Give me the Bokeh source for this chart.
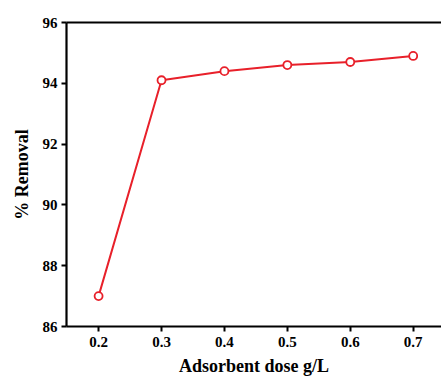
from bokeh.plotting import figure
from bokeh.models import LinearAxis, Range1d, FixedTicker
from bokeh.embed import file_html
from bokeh.resources import INLINE

dose = [0.2, 0.3, 0.4, 0.5, 0.6, 0.7]
removal = [87.0, 94.1, 94.4, 94.6, 94.7, 94.9]
x_ticks = [0.2, 0.3, 0.4, 0.5, 0.6, 0.7]
y_ticks = [86, 88, 90, 92, 94, 96]

FONT = "Liberation Serif"
RED = "#e8202a"

p = figure(width=441, height=383, output_backend="svg", toolbar_location=None,
           x_range=Range1d(0.149, 0.745), y_range=Range1d(86, 96),
           min_border_left=66, min_border_right=0, min_border_top=22, min_border_bottom=57)
p.outline_line_color = None
p.grid.grid_line_color = None
p.background_fill_color = "white"
p.border_fill_color = "white"

p.line(dose, removal, line_color=RED, line_width=2)
p.scatter(dose, removal, marker="circle", size=8, line_color=RED, line_width=1.8, fill_color="white")

for ax in (p.xaxis[0], p.yaxis[0]):
    ax.axis_line_width = 2.2
    ax.axis_line_color = "black"
    ax.major_tick_line_width = 2
    ax.major_tick_line_color = "black"
    ax.major_tick_out = 5
    ax.major_tick_in = 0
    ax.minor_tick_line_color = None
    ax.major_label_text_font = FONT
    ax.major_label_text_font_style = "bold"
    ax.major_label_text_font_size = "15px"
    ax.major_label_text_color = "black"
    ax.axis_label_text_font = FONT
    ax.axis_label_text_font_style = "bold"
    ax.axis_label_text_font_size = "18px"
    ax.axis_label_text_color = "black"

p.xaxis.ticker = FixedTicker(ticks=x_ticks)
p.yaxis.ticker = FixedTicker(ticks=y_ticks)
p.xaxis.axis_label = "Adsorbent dose g/L"
p.yaxis.axis_label = "% Removal"
p.xaxis.major_label_standoff = 5
p.yaxis.major_label_standoff = 4
p.xaxis.axis_label_standoff = 6
p.yaxis.axis_label_standoff = 8

top = LinearAxis(ticker=FixedTicker(ticks=[]), axis_line_width=2.2, axis_line_color="black",
                 major_tick_line_color=None, minor_tick_line_color=None,
                 major_label_text_font_size="0px", major_label_standoff=0)
p.add_layout(top, "above")

open("out.html", "w").write(file_html(p, INLINE))
